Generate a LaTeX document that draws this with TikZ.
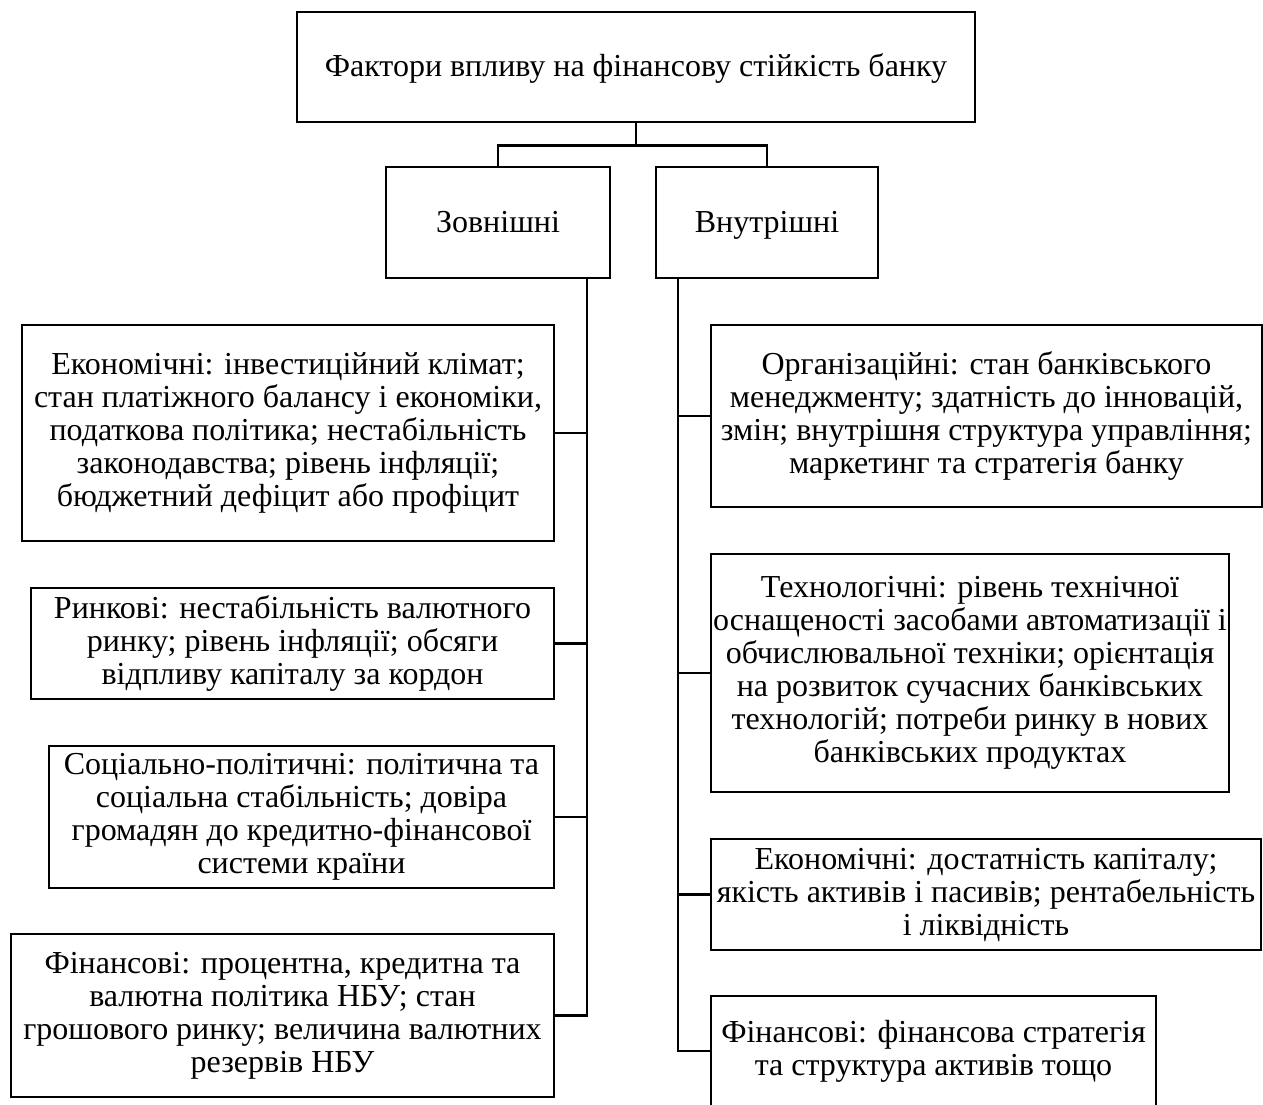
\documentclass[tikz,border=0pt]{standalone}
\usepackage{fontspec}
\setmainfont{Liberation Serif}
\newcommand{\bxstrut}{\rule[-6pt]{0pt}{32pt}}
\begin{document}
\begin{tikzpicture}[x=1pt,y=-1pt,
  box/.style={draw=black,line width=2.6pt,align=center,inner sep=0pt,
    font=\fontsize{32}{33}\selectfont,
    execute at begin node=\bxstrut, execute at end node=\bxstrut},
  conn/.style={draw=black,line width=2.6pt}]
\useasboundingbox (0,0) rectangle (1263,1104);
% top
\node[box,minimum width=678pt,minimum height=110pt] (top) at (636,67) {Фактори впливу на фінансову стійкість банку};
\node[box,minimum width=224pt,minimum height=111pt] (ext) at (498,222.5) {Зовнішні};
\node[box,minimum width=222pt,minimum height=111pt] (int) at (767,222.5) {Внутрішні};
% left column
\node[box,minimum width=532pt,minimum height=216pt] (e1) at (288,433) {Економічні: інвестиційний клімат;\\стан платіжного балансу і економіки,\\податкова політика; нестабільність\\законодавства; рівень інфляції;\\бюджетний дефіцит або профіцит};
\node[box,minimum width=523pt,minimum height=111pt] (e2) at (292.5,643.5) {Ринкові: нестабільність валютного\\ринку; рівень інфляції; обсяги\\відпливу капіталу за кордон};
\node[box,minimum width=505pt,minimum height=142pt] (e3) at (301.5,817) {Соціально-політичні: політична та\\соціальна стабільність; довіра\\громадян до кредитно-фінансової\\системи країни};
\node[box,minimum width=543pt,minimum height=163pt] (e4) at (282.5,1015.5) {Фінансові: процентна, кредитна та\\валютна політика НБУ; стан\\грошового ринку; величина валютних\\резервів НБУ};
% right column
\node[box,minimum width=551pt,minimum height=182pt] (i1) at (986.5,416) {Організаційні: стан банківського\\менеджменту; здатність до інновацій,\\змін; внутрішня структура управління;\\маркетинг та стратегія банку};
\node[box,minimum width=518pt,minimum height=238pt] (i2) at (970,673) {Технологічні: рівень технічної\\оснащеності засобами автоматизації і\\обчислювальної техніки; орієнтація\\на розвиток сучасних банківських\\технологій; потреби ринку в нових\\банківських продуктах};
\node[box,minimum width=550pt,minimum height=111pt] (i3) at (986,894.5) {Економічні: достатність капіталу;\\якість активів і пасивів; рентабельність\\і ліквідність};
\node[box,minimum width=445pt,minimum height=110pt] (i4) at (933.5,1051) {Фінансові: фінансова стратегія\\та структура активів тощо};
% connectors
\coordinate (lt) at ([xshift=89pt]ext.south);
\coordinate (rt) at ([xshift=-89pt]int.south);
\draw[conn] (top.south) -- ++(0,22) coordinate (tj);
\draw[conn] (ext.north) |- (tj) -| (int.north);
\draw[conn] (lt) |- (e4.east);
\draw[conn] (e1.east) -- (e1.east -| lt);
\draw[conn] (e2.east) -- (e2.east -| lt);
\draw[conn] (e3.east) -- (e3.east -| lt);
\draw[conn] (rt) |- (i4.west);
\draw[conn] (i1.west) -- (i1.west -| rt);
\draw[conn] (i2.west) -- (i2.west -| rt);
\draw[conn] (i3.west) -- (i3.west -| rt);
\end{tikzpicture}
\end{document}
